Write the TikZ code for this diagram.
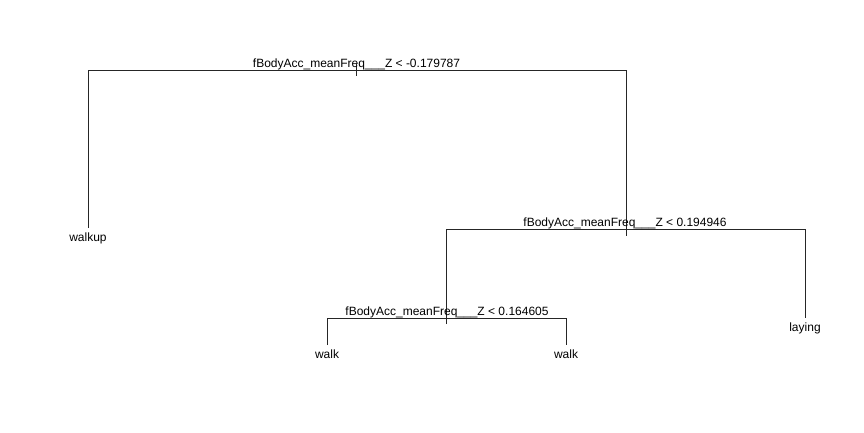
\documentclass[tikz,border=0pt]{standalone}
\usepackage{fontspec}
\setmainfont{Liberation Sans}
\begin{document}
\begin{tikzpicture}[x=1pt,y=-1pt,
  edge/.style={draw=black!85,line width=0.9pt},
  lbl/.style={inner sep=0pt,anchor=base,font=\fontsize{12}{14}\selectfont}]
\useasboundingbox (0,0) rectangle (864,432);
% structure coordinates
\coordinate (rtop) at (356,64);
\coordinate (rbot) at (356,76);
\coordinate (rl) at (88,70);
\coordinate (rr) at (626,70);
\coordinate (walkupend) at (88,228);
\coordinate (s2) at (626,236);
\coordinate (s2l) at (446,229);
\coordinate (s2r) at (805,229);
\coordinate (layingend) at (805,318);
\coordinate (s3) at (446,324);
\coordinate (s3l) at (327,318);
\coordinate (s3r) at (566,318);
\coordinate (walkaend) at (327,345);
\coordinate (walkbend) at (566,345);
% edges
\draw[edge] (rtop) -- (rbot);
\draw[edge] (walkupend) -- (rl) -- (rr) -- (s2);
\draw[edge] (s3) -- (s2l) -- (s2r) -- (layingend);
\draw[edge] (walkaend) -- (s3l) -- (s3r) -- (walkbend);
% labels
\node[lbl] (root) at (356.5,67) {fBodyAcc\_meanFreq\_\_\_Z < -0.179787};
\node[lbl] (split2) at (625,226) {fBodyAcc\_meanFreq\_\_\_Z < 0.194946};
\node[lbl] (split3) at (447,315) {fBodyAcc\_meanFreq\_\_\_Z < 0.164605};
\node[lbl] (walkup) at (88,241) {walkup};
\node[lbl] (walka) at (327,358) {walk};
\node[lbl] (walkb) at (566,358) {walk};
\node[lbl] (laying) at (805,331) {laying};
\end{tikzpicture}
\end{document}
